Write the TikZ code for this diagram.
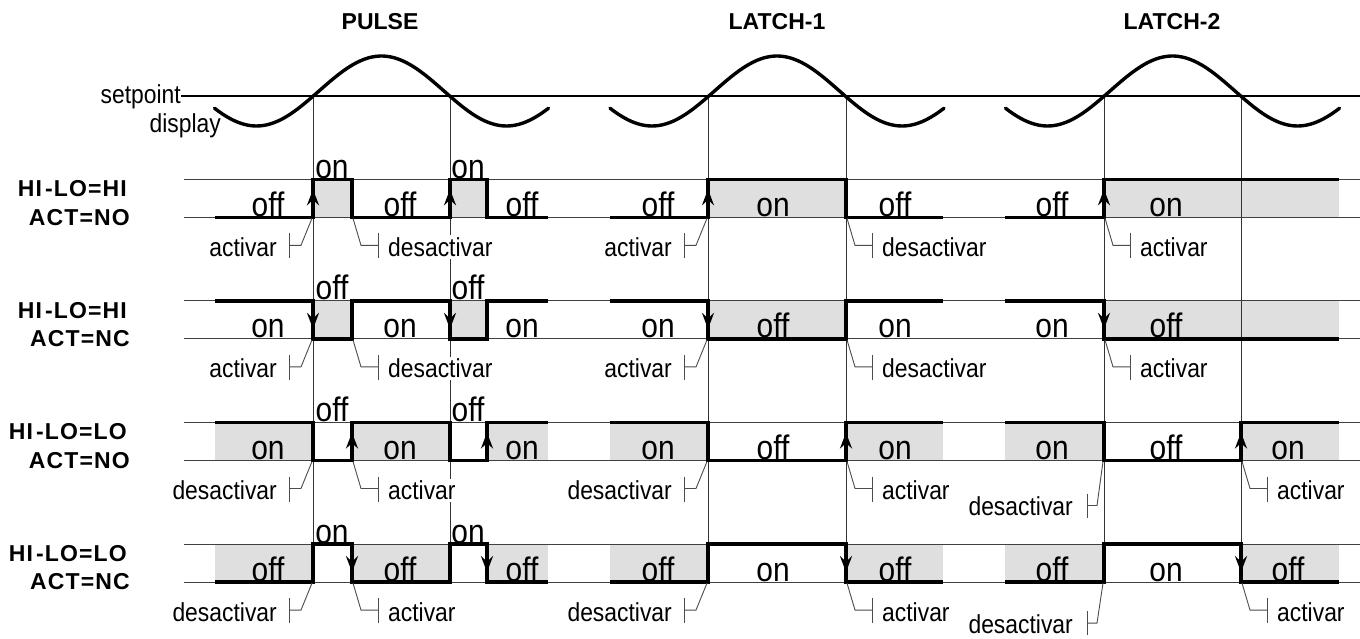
\documentclass[tikz,border=0pt]{standalone}
\usepackage{fontspec}
\setmainfont{Liberation Sans}[FakeStretch=0.88]
\newfontfamily\hfont{Liberation Sans}
\newfontfamily\lfont{Liberation Sans}[LetterSpace=5]
\usetikzlibrary{arrows.meta}
\newcommand\bigtxt{\fontsize{34}{38}\selectfont}
\newcommand\smtxt{\fontsize{26}{30}\selectfont}
\newcommand\ttltxt{\hfont\bfseries\fontsize{23}{26}\selectfont}
\newcommand\lbltxt{\lfont\bfseries\fontsize{23}{26}\selectfont}
\def\tA{179.3}\def\bA{217.3}
\def\tB{300.9}\def\bB{338.9}
\def\tC{422.5}\def\bC{460.5}
\def\tD{544.1}\def\bD{582.1}
\newcommand\bracketL[4]{%
  \draw[brk] (#1-1,#2+1) -- (#1-12,#2+28) -- (#1-24,#2+28);
  \draw[brk] (#1-24,#2+16) -- (#1-24,#2+41);
  \node[small, anchor=base east] (#4) at (#1-34,#2+39) {#3};}
\newcommand\bracketR[4]{%
  \draw[brk] (#1+1,#2+1) -- (#1+9,#2+28) -- (#1+26,#2+28);
  \draw[brk] (#1+26,#2+16) -- (#1+26,#2+41);
  \node[small, anchor=base west] (#4) at (#1+34,#2+39) {#3};}
% lowered left bracket; #5 = drop of the text baseline below the rail
\newcommand\bracketLL[5]{%
  \draw[brk] (#1-1,#2+1) -- (#1-7,#2+#5-10) -- (#1-17,#2+#5-10);
  \draw[brk] (#1-17,#2+#5-22) -- (#1-17,#2+#5+2);
  \node[small, anchor=base east] (#4) at (#1-29,#2+#5) {#3};}
\begin{document}
\begin{tikzpicture}[x=1pt,y=-1pt,
  sig/.style={line width=3.6pt, line join=miter, line cap=butt},
  arr/.style={line width=3pt, -{Stealth[length=16pt,width=12pt,inset=5.5pt]}},
  rail/.style={line width=1pt, black!75},
  vline/.style={line width=1pt, black!80},
  brk/.style={line width=0.9pt, black!70},
  wave/.style={line width=3.4pt, line cap=round},
  fillbox/.style={fill=gray!25},
  big/.style={font=\bigtxt, inner sep=0pt, anchor=base},
  small/.style={font=\smtxt, inner sep=2pt, fill=white},
  ttl/.style={font=\ttltxt, anchor=base, inner sep=0pt},
  lbl/.style={font=\lbltxt, anchor=base east, inner sep=0pt}]
\useasboundingbox[fill=white] (0,0) rectangle (1360,638);
% titles
\node[ttl] (tP) at (380,29.3) {PULSE};
\node[ttl] (tL1) at (777,29.3) {LATCH-1};
\node[ttl] (tL2) at (1172,29.3) {LATCH-2};
% gray fills
\foreach \tt/\bb in {\tA/\bA,\tB/\bB}{
  \fill[fillbox] (313,\tt) rectangle (352,\bb);
  \fill[fillbox] (450,\tt) rectangle (487,\bb);
  \fill[fillbox] (708,\tt) rectangle (846,\bb);
  \fill[fillbox] (1104,\tt) rectangle (1339,\bb);}
\foreach \tt/\bb in {\tC/\bC,\tD/\bD}{
  \fill[fillbox] (215,\tt) rectangle (313,\bb);
  \fill[fillbox] (352,\tt) rectangle (450,\bb);
  \fill[fillbox] (487,\tt) rectangle (548,\bb);
  \fill[fillbox] (610,\tt) rectangle (708,\bb);
  \fill[fillbox] (846,\tt) rectangle (943,\bb);
  \fill[fillbox] (1005,\tt) rectangle (1104,\bb);
  \fill[fillbox] (1241,\tt) rectangle (1339,\bb);}
% rails
\foreach \yy in {\tA,\bA,\tB,\bB,\tC,\bC,\tD,\bD}
  \draw[rail] (184,\yy) -- (1360,\yy);
% setpoint line and labels
\node[font=\smtxt, anchor=base east, inner sep=0pt] (sp) at (181,103) {setpoint};
\node[font=\smtxt, anchor=base east, inner sep=0pt] (dp) at (221,132) {display};
\draw[line width=1.3pt] (sp.east |- 0,96) -- (1360,96);
% vertical lines
\foreach \xx in {313,450,708,846,1104,1241}
  \draw[vline] (\xx,96) -- (\xx,\bD);
% sine waves
\foreach \cc in {381.5,777,1172.5}
  \draw[wave] plot[domain=-167:167, samples=90, smooth] ({\cc+\x},{91-35*cos(1.44*\x)});
% left labels
\foreach \tt/\ll/\aa [count=\k] in {\tA/HI/NO,\tB/HI/NC,\tC/LO/NO,\tD/LO/NC}{
  \node[lbl] (hl\k) at (127,\tt+17.4) {HI\hspace{3pt}-LO=\ll};
  \node[lbl] (ac\k) at (130,\tt+45.7) {ACT=\aa};}
% ---- Row 1 signals
\draw[sig] (215,\bA)--(313,\bA)--(313,\tA)--(352,\tA)--(352,\bA)--(450,\bA)--(450,\tA)--(487,\tA)--(487,\bA)--(548,\bA);
\draw[sig] (610,\bA)--(708,\bA)--(708,\tA)--(846,\tA)--(846,\bA)--(943,\bA);
\draw[sig] (1005,\bA)--(1104,\bA)--(1104,\tA)--(1339,\tA);
\foreach \xx in {313,450,708,1104} \draw[arr] (\xx,\bA) -- (\xx,\tA+10);
% ---- Row 2 signals
\draw[sig] (215,\tB)--(313,\tB)--(313,\bB)--(352,\bB)--(352,\tB)--(450,\tB)--(450,\bB)--(487,\bB)--(487,\tB)--(548,\tB);
\draw[sig] (610,\tB)--(708,\tB)--(708,\bB)--(846,\bB)--(846,\tB)--(943,\tB);
\draw[sig] (1005,\tB)--(1104,\tB)--(1104,\bB)--(1339,\bB);
\foreach \xx in {313,450,708,1104} \draw[arr] (\xx,\tB) -- (\xx,\bB-10);
% ---- Row 3 signals
\draw[sig] (215,\tC)--(313,\tC)--(313,\bC)--(352,\bC)--(352,\tC)--(450,\tC)--(450,\bC)--(487,\bC)--(487,\tC)--(548,\tC);
\draw[sig] (610,\tC)--(708,\tC)--(708,\bC)--(846,\bC)--(846,\tC)--(943,\tC);
\draw[sig] (1005,\tC)--(1104,\tC)--(1104,\bC)--(1241,\bC)--(1241,\tC)--(1339,\tC);
\foreach \xx in {352,487,846,1241} \draw[arr] (\xx,\bC) -- (\xx,\tC+10);
% ---- Row 4 signals
\draw[sig] (215,\bD)--(313,\bD)--(313,\tD)--(352,\tD)--(352,\bD)--(450,\bD)--(450,\tD)--(487,\tD)--(487,\bD)--(548,\bD);
\draw[sig] (610,\bD)--(708,\bD)--(708,\tD)--(846,\tD)--(846,\bD)--(943,\bD);
\draw[sig] (1005,\bD)--(1104,\bD)--(1104,\tD)--(1241,\tD)--(1241,\bD)--(1339,\bD);
\foreach \xx in {352,487,846,1241} \draw[arr] (\xx,\tD) -- (\xx,\bD-10);
% ---- on / off labels
\foreach \xx/\tx [count=\k] in {268/off,400/off,522/off,658/off,773/on,895/off,1052/off,1166/on}
  \node[big] (la\k) at (\xx,\bA-1) {\tx};
\node[big] (lau1) at (332,\tA-1) {on};
\node[big] (lau2) at (468,\tA-1) {on};
\foreach \xx/\tx [count=\k] in {268/on,400/on,522/on,658/on,773/off,895/on,1052/on,1166/off}
  \node[big] (lb\k) at (\xx,\bB-1) {\tx};
\node[big] (lbu1) at (332,\tB-1) {off};
\node[big] (lbu2) at (468,\tB-1) {off};
\foreach \xx/\tx [count=\k] in {268/on,400/on,522/on,658/on,773/off,895/on,1052/on,1166/off,1288/on}
  \node[big] (lc\k) at (\xx,\bC-1) {\tx};
\node[big] (lcu1) at (332,\tC-1) {off};
\node[big] (lcu2) at (468,\tC-1) {off};
\foreach \xx/\tx [count=\k] in {268/off,400/off,522/off,658/off,773/on,895/off,1052/off,1166/on,1288/off}
  \node[big] (ld\k) at (\xx,\bD-1) {\tx};
\node[big] (ldu1) at (332,\tD-1) {on};
\node[big] (ldu2) at (468,\tD-1) {on};
% ---- brackets
\bracketL{313}{\bA}{activar}{ba1}
\bracketR{352}{\bA}{desactivar}{ba2}
\bracketL{708}{\bA}{activar}{ba3}
\bracketR{846}{\bA}{desactivar}{ba4}
\bracketR{1104}{\bA}{activar}{ba5}
\bracketL{313}{\bB}{activar}{bb1}
\bracketR{352}{\bB}{desactivar}{bb2}
\bracketL{708}{\bB}{activar}{bb3}
\bracketR{846}{\bB}{desactivar}{bb4}
\bracketR{1104}{\bB}{activar}{bb5}
\bracketL{313}{\bC}{desactivar}{bc1}
\bracketR{352}{\bC}{activar}{bc2}
\bracketL{708}{\bC}{desactivar}{bc3}
\bracketR{846}{\bC}{activar}{bc4}
\bracketLL{1104}{\bC}{desactivar}{bc5}{55}
\bracketR{1241}{\bC}{activar}{bc6}
\bracketL{313}{\bD}{desactivar}{bd1}
\bracketR{352}{\bD}{activar}{bd2}
\bracketL{708}{\bD}{desactivar}{bd3}
\bracketR{846}{\bD}{activar}{bd4}
\bracketLL{1104}{\bD}{desactivar}{bd5}{51}
\bracketR{1241}{\bD}{activar}{bd6}
\end{tikzpicture}
\end{document}
